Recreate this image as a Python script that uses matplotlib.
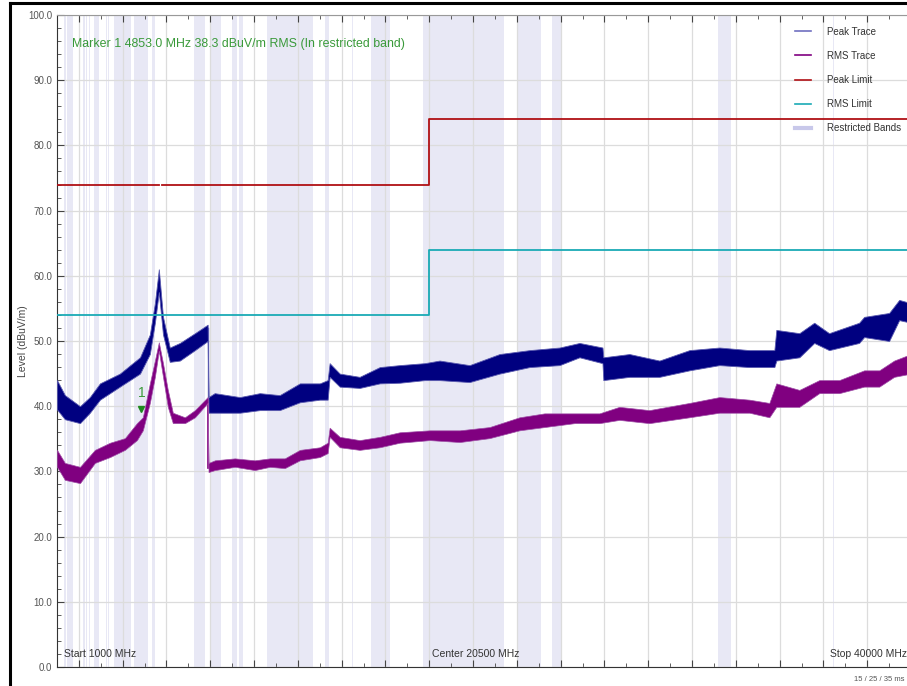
import numpy as np
import matplotlib
matplotlib.use("Agg")
import matplotlib.pyplot as plt
from matplotlib.lines import Line2D
from matplotlib.ticker import MultipleLocator, NullFormatter

plt.rcParams['font.family'] = ['Liberation Sans', 'DejaVu Sans']

# ---- data (MHz / dBuV/m) ----
peak_f = [1000, 1360, 2050, 2500, 2960, 3870, 4790, 5240, 5470, 5650, 5840, 6150, 6610,
          7300, 7880, 7920, 8200, 9350, 10260, 11170, 12090, 13000, 13360, 13450, 13910,
          14820, 15740, 16650, 17790, 18470, 19840, 21210, 22580, 23950, 24860, 25910,
          25950, 27140, 28510, 29880, 31250, 32620, 33760, 33850, 34900, 35580, 36260,
          37630, 37860, 39000, 39460, 40000]
peak_lo = [39.5, 38.0, 37.4, 39.0, 41.0, 43.0, 45.0, 48.0, 52.8, 57.5, 51.0, 46.8, 47.0,
           48.6, 50.0, 39.0, 39.0, 39.0, 39.4, 39.4, 40.6, 41.0, 41.0, 44.5, 43.0,
           42.8, 43.5, 43.6, 44.0, 44.0, 43.7, 45.0, 46.0, 46.3, 47.5, 46.6,
           44.0, 44.5, 44.5, 45.5, 46.3, 46.0, 46.0, 47.0, 47.5, 49.7, 48.6,
           49.7, 50.6, 50.0, 53.2, 52.8]
peak_hi = [44.0, 41.7, 40.0, 41.4, 43.5, 45.0, 47.5, 51.0, 55.8, 61.0, 53.7, 49.0, 49.7,
           51.2, 52.5, 41.4, 42.0, 41.4, 42.0, 41.7, 43.5, 43.5, 44.0, 46.6, 45.0,
           44.5, 46.0, 46.3, 46.6, 47.0, 46.3, 48.0, 48.6, 49.0, 49.7, 49.0,
           47.5, 48.0, 47.0, 48.6, 49.0, 48.6, 48.6, 51.7, 51.2, 52.8, 51.2,
           52.8, 53.7, 54.3, 56.3, 55.8]

rms_f = [1000, 1360, 2050, 2730, 3420, 4100, 4650, 4920, 5240, 5470, 5650, 5840, 6060,
         6290, 6840, 7300, 7880, 7920, 8210, 9120, 10030, 10720, 11400, 12090, 13000,
         13360, 13450, 13910, 14820, 15740, 16650, 18020, 19390, 20750, 22120, 23260,
         24630, 25770, 26680, 28050, 29880, 31250, 32620, 33530, 33850, 34900, 35810,
         36720, 37860, 38550, 39230, 40000]
rms_lo = [30.7, 28.7, 28.2, 31.3, 32.2, 33.3, 34.8, 36.3, 40.5, 44.5, 48.5, 44.5, 39.9,
          37.4, 37.4, 38.3, 40.5, 29.9, 30.2, 30.7, 30.2, 30.7, 30.5, 31.7, 32.2,
          32.8, 35.3, 33.7, 33.3, 33.7, 34.4, 34.8, 34.5, 35.1, 36.3, 36.8,
          37.4, 37.4, 37.9, 37.4, 38.3, 39.0, 39.0, 38.3, 39.9, 39.9, 42.0,
          42.0, 43.0, 43.0, 44.5, 45.0]
rms_hi = [33.3, 31.3, 30.7, 33.3, 34.4, 35.1, 37.4, 38.3, 43.5, 47.0, 49.8, 46.6, 42.5,
          39.0, 38.3, 39.4, 41.4, 31.3, 31.7, 32.0, 31.7, 32.0, 32.0, 33.3, 33.7,
          34.4, 36.7, 35.3, 34.8, 35.3, 36.0, 36.3, 36.3, 36.8, 38.3, 38.9,
          38.9, 38.9, 39.9, 39.4, 40.5, 41.4, 41.0, 40.5, 43.5, 42.5, 44.0,
          44.0, 45.5, 45.5, 47.0, 48.0]

peak_limit_f = [1000, 5650, 5700, 5800, 18000, 18000, 40000]
peak_limit_v = [74, 74, np.nan, 74, 74, 84, 84]
rms_limit_f = [1000, 18000, 18000, 40000]
rms_limit_v = [54, 54, 64, 64]

# restricted bands (MHz)
bands = [(1300, 1427), (1435, 1626.5), (1645.5, 1646.5), (1660, 1710), (1718.8, 1722.2),
         (2200, 2300), (2310, 2390), (2483.5, 2500), (2690, 2900), (3260, 3267),
         (3332, 3339), (3345.8, 3358), (3600, 4400), (4500, 5150), (5350, 5460),
         (7250, 7750), (8025, 8500), (9000, 9200), (9300, 9500), (10600, 12700),
         (13250, 13400), (14470, 14500), (15350, 16200), (17700, 21400),
         (22010, 23120), (23600, 24000), (31200, 31800), (36430, 36500)]

marker_f = 4853.0
marker_v = 38.3

# ---- figure ----
fig = plt.figure(figsize=(9.07, 6.86), dpi=100)
ax = fig.add_axes([57/907, 19/686, 854/907, 652/686])

for lo, hi in bands:
    ax.axvspan(lo, hi, color='#e8e8f5', lw=0, zorder=0.2)

ax.fill_between(peak_f, peak_lo, peak_hi, color='#000080', lw=0.6, ec='#5a5ab0', zorder=3)
ax.fill_between(rms_f, rms_lo, rms_hi, color='#800080', lw=0.5, ec='#a050a8', zorder=3)
# vertical drops at 7.9 GHz
ax.plot([7900, 7900], [40.5, 52.0], color='#7070c0', lw=1, zorder=2)
ax.plot([7900, 7900], [30.5, 41.0], color='#800080', lw=1.2, zorder=2)

ax.plot(peak_limit_f, peak_limit_v, color='#b01015', lw=1.3, zorder=4)
ax.plot(rms_limit_f, rms_limit_v, color='#1aaab5', lw=1.3, zorder=4)

# marker
ax.plot([marker_f], [marker_v + 1.2], marker='v', color='#1f8a1f', ms=5, ls='none', zorder=5)
ax.text(marker_f, marker_v + 2.6, '1', color='#3a9a3a', fontsize=10, ha='center', va='bottom')
ax.text(0.018, 0.965, 'Marker 1 4853.0 MHz 38.3 dBuV/m RMS (In restricted band)',
        transform=ax.transAxes, color='#3a9a3a', fontsize=8.9, va='top')

ax.set_xlim(1000, 40000)
ax.set_ylim(0, 100)
ax.xaxis.set_major_locator(MultipleLocator(2000))
ax.xaxis.set_minor_locator(MultipleLocator(1000))
ax.xaxis.set_major_formatter(NullFormatter())
ax.yaxis.set_major_locator(MultipleLocator(10))
ax.yaxis.set_minor_locator(MultipleLocator(2))
ax.set_yticklabels([f'{v:.1f}' for v in ax.get_yticks()])
ax.tick_params(which='both', direction='in', top=True, right=False, color='#444')
ax.tick_params(which='major', length=5, labelsize=7, labelcolor='#555')
ax.tick_params(which='minor', length=3)
ax.grid(True, which='major', color='#dcdcdc', lw=0.9)
ax.set_axisbelow(True)
for s in ['left', 'bottom']:
    ax.spines[s].set_color('#333')
ax.spines['top'].set_color('#999')

ax.set_ylabel('Level (dBuV/m)', fontsize=7.5, color='#444')
ax.yaxis.set_label_coords(-29/854, 0.5)

ax.text(0.008, 0.012, 'Start 1000 MHz', transform=ax.transAxes, fontsize=7.5,
        color='#333', va='bottom')
ax.text(0.49, 0.012, 'Center 20500 MHz', transform=ax.transAxes, fontsize=7.5,
        color='#333', va='bottom', ha='center')
ax.text(0.995, 0.012, 'Stop 40000 MHz', transform=ax.transAxes, fontsize=7.5,
        color='#333', va='bottom', ha='right')
fig.text(904/907, 5/686, '15 / 25 / 35 ms', fontsize=5.5, color='#555', ha='right')

handles = [Line2D([], [], color='#7070c0', lw=1.2),
           Line2D([], [], color='#800080', lw=1.2),
           Line2D([], [], color='#b01015', lw=1.2),
           Line2D([], [], color='#1aaab5', lw=1.2),
           Line2D([], [], color='#c8c8ea', lw=3)]
labels = ['Peak Trace', 'RMS Trace', 'Peak Limit', 'RMS Limit', 'Restricted Bands']
fig.legend(handles, labels, loc='upper left', bbox_to_anchor=(786/907, 1 - 18/686),
           frameon=False, fontsize=7, labelspacing=1.45, handlelength=1.7,
           handletextpad=1.6, labelcolor='#333')

# screenshot frame
fig.add_artist(Line2D([9.5/907, 9.5/907], [0, 1 - 3/686], color='black', lw=2.2,
                      transform=fig.transFigure))
fig.add_artist(Line2D([9.5/907, 1], [1 - 3/686, 1 - 3/686], color='black', lw=2.2,
                      transform=fig.transFigure))

fig.savefig('out.png', dpi=100)
